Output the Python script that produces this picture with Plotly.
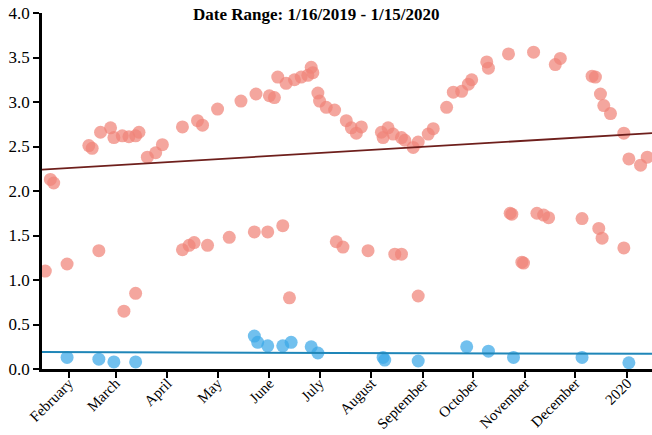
import plotly.graph_objects as go

# Upper band of measurements (salmon)
upper_dates = [
    "2019-01-21", "2019-01-23", "2019-02-13", "2019-02-15", "2019-02-20", "2019-02-26",
    "2019-02-28", "2019-03-05", "2019-03-09", "2019-03-13", "2019-03-15", "2019-03-20",
    "2019-03-25", "2019-03-29", "2019-04-10", "2019-04-19", "2019-04-22", "2019-05-01",
    "2019-05-15", "2019-05-24", "2019-06-01", "2019-06-04", "2019-06-06", "2019-06-11",
    "2019-06-16", "2019-06-20", "2019-06-24", "2019-06-26", "2019-06-27", "2019-06-30",
    "2019-07-01", "2019-07-05", "2019-07-10", "2019-07-17", "2019-07-20", "2019-07-23",
    "2019-07-26", "2019-08-07", "2019-08-08", "2019-08-11", "2019-08-14", "2019-08-19",
    "2019-08-21", "2019-08-26", "2019-08-29", "2019-09-04", "2019-09-07", "2019-09-15",
    "2019-09-19", "2019-09-24", "2019-09-28", "2019-09-30", "2019-10-09", "2019-10-10",
    "2019-10-22", "2019-11-06", "2019-11-19", "2019-11-22", "2019-12-11", "2019-12-13",
    "2019-12-16", "2019-12-18", "2019-12-22", "2019-12-30", "2020-01-02", "2020-01-09",
    "2020-01-13",
]
upper_values = [
    2.13, 2.09, 2.51, 2.48, 2.66, 2.71,
    2.60, 2.62, 2.61, 2.62, 2.66, 2.38,
    2.43, 2.52, 2.72, 2.79, 2.74, 2.92,
    3.01, 3.09, 3.07, 3.05, 3.28, 3.21,
    3.25, 3.28, 3.30, 3.39, 3.33, 3.10,
    3.01, 2.94, 2.91, 2.79, 2.71, 2.65,
    2.72, 2.66, 2.60, 2.71, 2.64, 2.60,
    2.57, 2.49, 2.55, 2.64, 2.70, 2.94,
    3.11, 3.12, 3.20, 3.25, 3.45, 3.38,
    3.54, 3.56, 3.42, 3.49, 3.29, 3.28,
    3.09, 2.96, 2.87, 2.65, 2.36, 2.29,
    2.38,
]

# Middle band of measurements (salmon)
middle_dates = [
    "2019-01-18", "2019-01-31", "2019-02-19", "2019-03-06", "2019-03-13", "2019-04-10",
    "2019-04-14", "2019-04-17", "2019-04-25", "2019-05-08", "2019-05-23", "2019-05-31",
    "2019-06-09", "2019-06-13", "2019-07-11", "2019-07-15", "2019-07-30", "2019-08-15",
    "2019-08-19", "2019-08-29", "2019-10-23", "2019-10-24", "2019-10-30", "2019-10-31",
    "2019-11-08", "2019-11-12", "2019-11-15", "2019-12-05", "2019-12-15", "2019-12-17",
    "2019-12-30",
]
middle_values = [
    1.10, 1.18, 1.33, 0.65, 0.85, 1.34,
    1.39, 1.42, 1.39, 1.48, 1.54, 1.54,
    1.61, 0.80, 1.43, 1.37, 1.33, 1.29,
    1.29, 0.82, 1.75, 1.74, 1.20, 1.19,
    1.75, 1.73, 1.70, 1.69, 1.58, 1.47,
    1.36,
]

# Low band of measurements (blue)
low_dates = [
    "2019-01-31", "2019-02-19", "2019-02-28", "2019-03-13", "2019-05-23", "2019-05-25",
    "2019-05-31", "2019-06-09", "2019-06-14", "2019-06-26", "2019-06-30", "2019-08-08",
    "2019-08-09", "2019-08-29", "2019-09-27", "2019-10-10", "2019-10-25", "2019-12-05",
    "2020-01-02",
]
low_values = [
    0.13, 0.11, 0.08, 0.08, 0.37, 0.30,
    0.26, 0.26, 0.30, 0.25, 0.18, 0.13,
    0.10, 0.09, 0.25, 0.20, 0.13, 0.13,
    0.07,
]

# Linear trends across the date range
trend_dates = ["2019-01-16", "2020-01-15 20:00"]
red_trend = [2.24, 2.65]
blue_trend = [0.19, 0.17]

tick_dates = [
    "2019-02-01", "2019-03-01", "2019-04-01", "2019-05-01", "2019-06-01", "2019-07-01",
    "2019-08-01", "2019-09-01", "2019-10-01", "2019-11-01", "2019-12-01", "2020-01-01",
]
tick_labels = [
    "February", "March", "April", "May", "June", "July",
    "August", "September", "October", "November", "December", "2020",
]

SALMON = "#f08478"
BLUE = "#3aa8e8"
SERIF = "Liberation Serif, Times New Roman, serif"

fig = go.Figure()

for xs, ys, col in [
    (upper_dates, upper_values, SALMON),
    (middle_dates, middle_values, SALMON),
    (low_dates, low_values, BLUE),
]:
    fig.add_trace(go.Scatter(
        x=xs, y=ys, mode="markers",
        marker=dict(size=13, color=col, opacity=0.72, line=dict(width=0)),
        showlegend=False, hoverinfo="skip",
    ))

fig.add_trace(go.Scatter(
    x=trend_dates, y=red_trend, mode="lines",
    line=dict(color="#6e1f1c", width=1.8), showlegend=False, hoverinfo="skip",
))
fig.add_trace(go.Scatter(
    x=trend_dates, y=blue_trend, mode="lines",
    line=dict(color="#1f86b8", width=2), showlegend=False, hoverinfo="skip",
))

fig.update_layout(
    width=652, height=435,
    margin=dict(l=42, r=0, t=13, b=66, autoexpand=False),
    paper_bgcolor="white", plot_bgcolor="white",
    font=dict(family=SERIF, color="black"),
    title=dict(
        text="<b>Date Range: 1/16/2019 - 1/15/2020</b>",
        font=dict(family=SERIF, size=17, color="black"),
        x=0.485, xanchor="center", y=0.968, yanchor="middle",
    ),
)

fig.update_xaxes(
    type="date", automargin=False,
    range=["2019-01-16", "2020-01-15 20:00"],
    tickmode="array", tickvals=tick_dates, ticktext=tick_labels,
    tickangle=-45, tickfont=dict(family=SERIF, size=15, color="black"),
    ticklabelstandoff=-9,
    ticks="outside", ticklen=6, tickwidth=2, tickcolor="black",
    showline=True, linecolor="black", linewidth=2.5,
    showgrid=False, zeroline=False,
)
fig.update_yaxes(
    automargin=False,
    range=[0, 4], tickmode="linear", tick0=0, dtick=0.5, tickformat=".1f",
    tickfont=dict(family=SERIF, size=17, color="black"),
    ticks="outside", ticklen=6, tickwidth=2, tickcolor="black",
    showline=True, linecolor="black", linewidth=2.5,
    showgrid=False, zeroline=False,
)

fig.write_html("out.html", config={"displayModeBar": False})
